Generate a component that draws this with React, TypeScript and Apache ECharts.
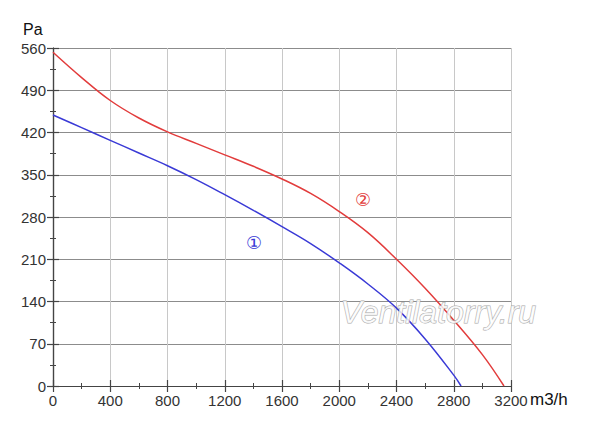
import React, { useEffect, useRef } from "react";
import * as echarts from "echarts";

const xTicks = { min: 0, max: 3200, interval: 400 };
const yTicks = { min: 0, max: 560, interval: 70 };

const curve1: [number, number][] = [
  [0, 449], [200, 428], [400, 407], [600, 386], [800, 365], [1000, 342],
  [1200, 317], [1400, 291], [1600, 264], [1800, 236], [2000, 204],
  [2200, 169], [2400, 129], [2600, 78], [2800, 18], [2851, 0],
];

const curve2: [number, number][] = [
  [0, 553], [200, 511], [400, 473], [600, 444], [800, 421], [1000, 402],
  [1200, 383], [1400, 364], [1600, 343], [1800, 319], [2000, 289],
  [2200, 254], [2400, 210], [2600, 162], [2800, 109], [3000, 52], [3151, 0],
];

const label1 = { text: "①", x: 1404, y: 238 };
const label2 = { text: "②", x: 2166, y: 309 };

const xUnit = "m3/h";
const yUnit = "Pa";
const watermark = "Ventilatorry.ru";

const RED = "#e23c3c";
const BLUE = "#3a3ad6";
const FONT = "Liberation Sans, Arial, sans-serif";

export default function App() {
  const ref = useRef<HTMLDivElement>(null);
  useEffect(() => {
    document.body.style.margin = "0";
    const chart = echarts.init(ref.current!, null, { renderer: "svg" });
    const axisCommon = {
      type: "value" as const,
      axisLine: { show: true, lineStyle: { color: "#444", width: 1.2 } },
      axisTick: { show: true, inside: true, length: 6, lineStyle: { color: "#444", width: 1.2 } },
      minorTick: { show: true, splitNumber: 2, length: 3, lineStyle: { color: "#444", width: 1 } },
    };
    chart.setOption({
      animation: false,
      backgroundColor: "#fff",
      textStyle: { fontFamily: FONT },
      grid: { left: 53, top: 48, width: 458, height: 338 },
      xAxis: [
        {
          ...axisCommon,
          position: "bottom",
          ...xTicks,
          splitLine: { show: true, lineStyle: { color: "#c8c8c8", width: 1 } },
          axisLabel: { fontSize: 15, color: "#333", margin: 7, formatter: (v: number) => String(v) },
        },
        {
          ...axisCommon,
          position: "top",
          ...xTicks,
          splitLine: { show: false },
          axisLabel: { show: false },
        },
      ],
      yAxis: [
        {
          ...axisCommon,
          position: "left",
          ...yTicks,
          splitLine: { show: true, lineStyle: { color: "#8c8c8c", width: 1 } },
          axisLabel: { fontSize: 15, color: "#333", margin: 7, formatter: (v: number) => String(v) },
        },
        {
          ...axisCommon,
          position: "right",
          ...yTicks,
          splitLine: { show: false },
          axisLabel: { show: false },
        },
      ],
      series: [
        {
          type: "line",
          data: curve1,
          smooth: 0.4,
          showSymbol: false,
          lineStyle: { color: BLUE, width: 1.5 },
          markPoint: {
            symbolSize: 0,
            label: { show: true, formatter: label1.text, color: BLUE, fontSize: 18, fontFamily: "DejaVu Sans" },
            data: [{ coord: [label1.x, label1.y] }],
          },
        },
        {
          type: "line",
          data: curve2,
          smooth: 0.4,
          showSymbol: false,
          lineStyle: { color: RED, width: 1.5 },
          markPoint: {
            symbolSize: 0,
            label: { show: true, formatter: label2.text, color: RED, fontSize: 18, fontFamily: "DejaVu Sans" },
            data: [{ coord: [label2.x, label2.y] }],
          },
        },
      ],
      graphic: [
        {
          type: "text",
          left: 23,
          top: 21,
          style: { text: yUnit, fontSize: 16, fill: "#111", fontFamily: FONT },
        },
        {
          type: "text",
          left: 530,
          top: 391,
          style: { text: xUnit, fontSize: 17, fill: "#111", fontFamily: FONT },
        },
        {
          type: "text",
          left: 340,
          top: 295,
          z: 100,
          style: {
            text: watermark,
            fontSize: 32,
            fontStyle: "italic",
            fontFamily: FONT,
            fill: "rgba(255,255,255,0.8)",
            stroke: "#a8a8a8",
            lineWidth: 1,
          },
        },
      ],
    });
    return () => chart.dispose();
  }, []);
  return <div ref={ref} style={{ position: "absolute", left: 0, top: 0, width: 600, height: 426 }} />;
}
